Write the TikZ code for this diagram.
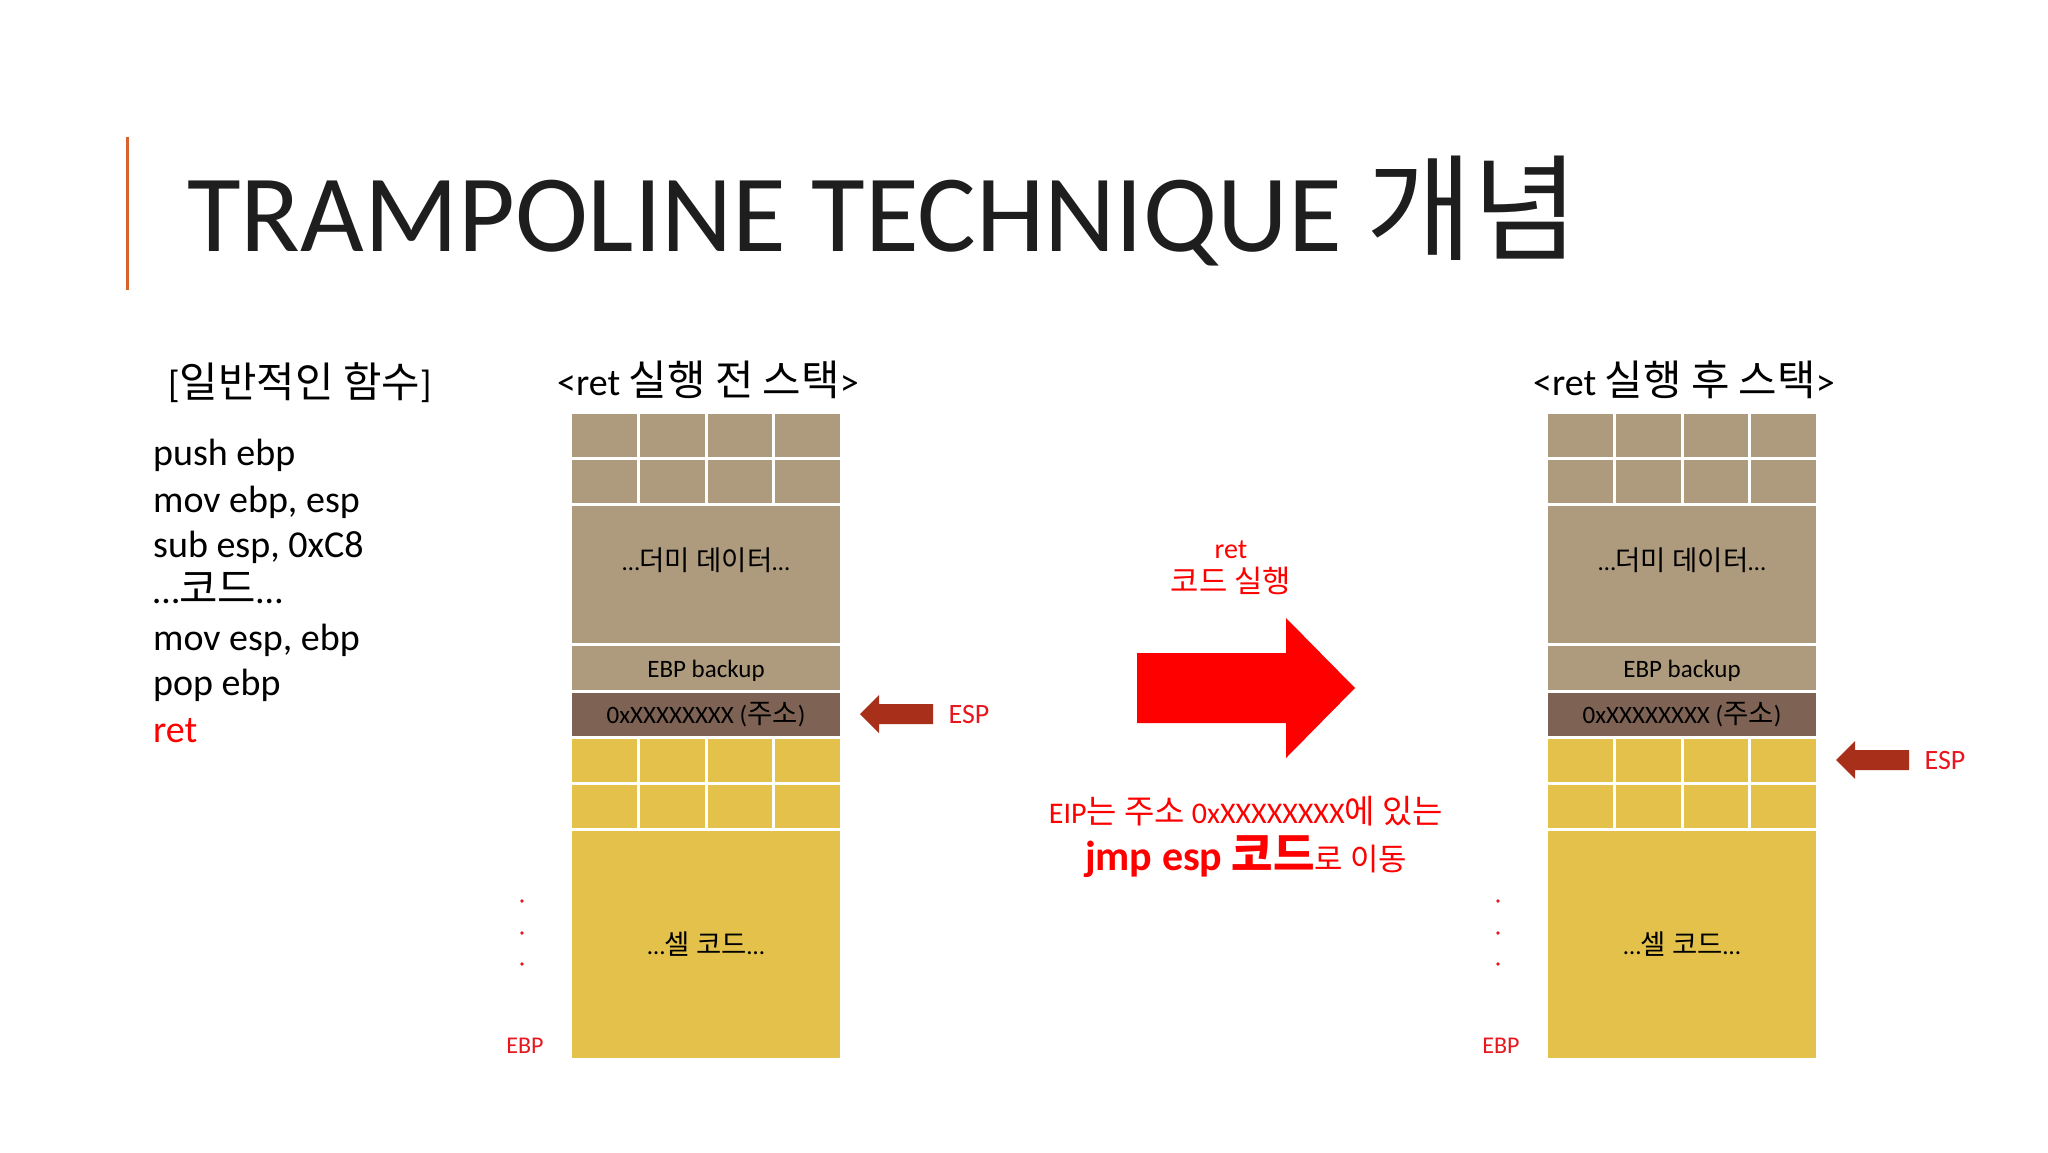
\documentclass[tikz,border=0pt]{standalone}
\usepackage{fontspec}
\setmainfont{Carlito}
\newfontfamily\kr[Scale=1.1]{Noto Sans CJK KR}
\newcommand\K[1]{{\kr #1}}
\newcommand\fs[1]{\fontsize{#1}{#1}\selectfont}
\definecolor{stkTan}{HTML}{AE9A7C}
\definecolor{stkBrown}{HTML}{7E6254}
\definecolor{stkYellow}{HTML}{E3C14A}
\definecolor{espArrow}{HTML}{A8301A}
\definecolor{titleBar}{HTML}{D9622B}
\definecolor{txtRed}{HTML}{FF0000}
\definecolor{lblRed}{HTML}{E8161E}
\tikzset{
  cell/.style={draw=white, line width=3pt, anchor=north west, inner sep=0pt, outer sep=0pt,
               minimum width=67.75pt, minimum height=46pt},
  wide/.style={draw=white, line width=3pt, anchor=north west, inner sep=0pt, outer sep=0pt,
               minimum width=271pt},
  stxt/.style={font=\fs{25}, inner sep=0pt, text=black},
  codeline/.style={font=\fs{38}, anchor=base west, inner sep=0pt},
  stitle/.style={font=\fs{38}, anchor=base, inner sep=0pt},
  esplbl/.style={font=\fs{28}, text=lblRed, inner sep=0pt},
  ebplbl/.style={font=\fs{24}, text=lblRed, inner sep=0pt},
  reddot/.style={fill=lblRed},
  redtxt/.style={text=txtRed, inner sep=0pt, anchor=base},
}
\newcommand\drawstack[2]{%
  \foreach \i in {0,...,3} {
    \node[cell, fill=stkTan] (#2ta\i) at (#1+\i*67.75, 412.5) {};
    \node[cell, fill=stkTan] (#2tb\i) at (#1+\i*67.75, 458.5) {};
    \node[cell, fill=stkYellow] (#2ya\i) at (#1+\i*67.75, 737.5) {};
    \node[cell, fill=stkYellow] (#2yb\i) at (#1+\i*67.75, 783.5) {};
  }
  \node[wide, fill=stkTan, minimum height=140pt] (#2dummy) at (#1, 504.5) {};
  \node[wide, fill=stkTan, minimum height=47pt] (#2ebp) at (#1, 644.5) {};
  \node[wide, fill=stkBrown, minimum height=46pt] (#2addr) at (#1, 691.5) {};
  \node[wide, fill=stkYellow, minimum height=230pt] (#2shell) at (#1, 829.5) {};
  \node[stxt] (#2dummytxt) at (#1+135.5, 560) {…\K{더미 데이터}…};
  \node[stxt, anchor=base] (#2ebptxt) at (#1+135.5, 677) {EBP backup};
  \node[stxt, anchor=base] (#2addrtxt) at (#1+135.5, 723) {0xXXXXXXXX (\K{주소})};
  \node[stxt] (#2shelltxt) at (#2shell.center) {…\K{셀 코드}…};
  \fill[reddot] (#1-48.5, 901) circle (1.8);
  \fill[reddot] (#1-48.5, 933) circle (1.8);
  \fill[reddot] (#1-48.5, 964) circle (1.8);
  \node[ebplbl] (#2ebplbl) at (#1-45.5, 1046) {EBP};
}
\newcommand\esparrow[1]{%
  \fill[espArrow] (#1) -- ++(19,-19) -- ++(0,9) -- ++(54,0) -- ++(0,20)
    -- ++(-54,0) -- ++(0,9) -- cycle;
}
\begin{document}
\begin{tikzpicture}[x=1pt, y=-1pt]
\fill[white] (0,0) rectangle (2048,1152);
\useasboundingbox (0,0) rectangle (2048,1152);

% title
\draw[titleBar, line width=3pt] (127,137) -- (127,290);
\node[anchor=base west, inner sep=0pt, font=\fs{110}, text={rgb,255:red,30;green,30;blue,30}] (title)
  at (187,251) {TRAMPOLINE TECHNIQUE \K{\fs{105}개념}};

% left code
\node[anchor=base west, inner sep=0pt, font=\fs{38}] (fnhead) at (168,397) {[\K{일반적인 함수}]};
\node[codeline] (c1) at (153,465) {push ebp};
\node[codeline] (c2) at (153,512) {mov ebp, esp};
\node[codeline] (c3) at (153,557) {sub esp, 0xC8};
\node[codeline] (c4) at (153,603) {…\K{코드}…};
\node[codeline] (c5) at (153,650) {mov esp, ebp};
\node[codeline] (c6) at (153,695) {pop ebp};
\node[codeline, text=txtRed] (c7) at (153,742) {ret};

% stacks
\node[stitle] (ltitle) at (708,395) {<ret \K{실행 전 스택}>};
\node[stitle] (rtitle) at (1684,395) {<ret \K{실행 후 스택}>};
\drawstack{570.5}{L}
\drawstack{1546.5}{R}

% ESP arrows
\coordinate (espL) at (860,714);
\coordinate (espR) at (1836,760);
\esparrow{espL}
\esparrow{espR}
\node[esplbl] (espLlbl) at (969,714) {ESP};
\node[esplbl] (espRlbl) at (1945,760) {ESP};

% big arrow
\coordinate (bigtip) at (1355,688);
\fill[txtRed] (1137,653) -- (1286,653) -- (1286,618) -- (bigtip) -- (1286,758)
  -- (1286,723) -- (1137,723) -- cycle;
\node[redtxt, font=\fs{28}] (rettxt) at (1231,558) {ret};
\node[redtxt, font=\fs{28}] (runtxt) at (1231,592) {\K{코드 실행}};
\node[redtxt, font=\fs{30}] (eiptxt) at (1246,823) {EIP\K{는 주소} 0xXXXXXXXX\K{에 있는}};
\node[redtxt] (jmptxt) at (1246,870)
  {{\bfseries\fs{42}jmp esp \K{\fs{41}코드}}\K{\fs{28}로 이동}};
\end{tikzpicture}
\end{document}
